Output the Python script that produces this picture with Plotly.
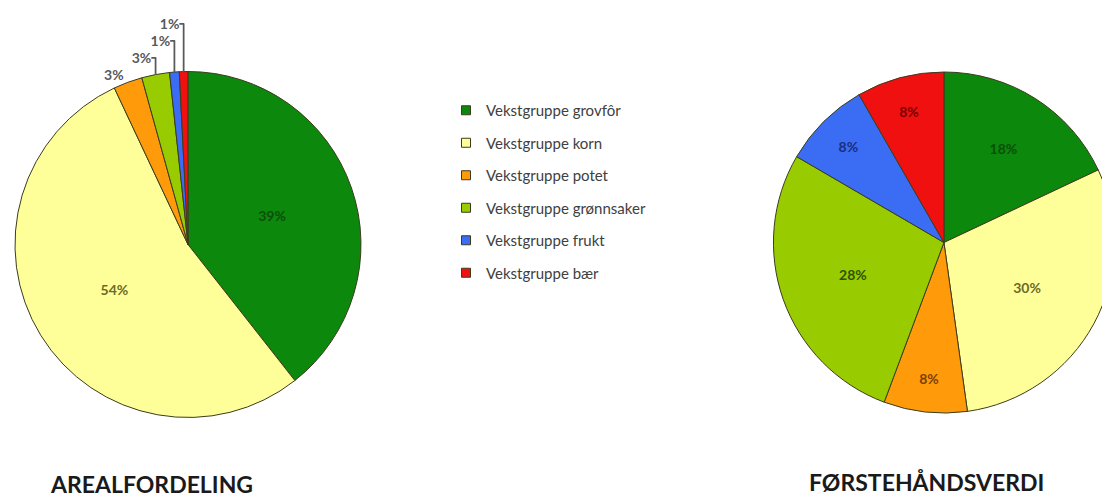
import plotly.graph_objects as go

categories = ["Vekstgruppe grovfôr", "Vekstgruppe korn", "Vekstgruppe potet",
              "Vekstgruppe grønnsaker", "Vekstgruppe frukt", "Vekstgruppe bær"]
areal = [39.4, 53.6, 2.7, 2.6, 0.9, 0.8]
verdi = [18.0, 29.8, 7.9, 27.7, 8.3, 8.3]
titles = ["AREALFORDELING", "FØRSTEHÅNDSVERDI"]

colors = ["#0C880C", "#FFFF99", "#FF9A0A", "#99CC00", "#3A6CF4", "#F01010"]
text_colors = ["#0B4F0B", "#6B6B2A", "#7A4000", "#2F5200", "#1A2F80", "#7A0000"]
font = "Lato, 'Open Sans', sans-serif"

fig = go.Figure()

fig.add_trace(go.Pie(
    labels=categories, values=areal, sort=False, direction="clockwise", rotation=0,
    domain=dict(x=[0.0063, 0.318], y=[0.1777, 0.8725]),
    marker=dict(colors=colors, line=dict(color="#3C3C1E", width=1)),
    texttemplate="%{percent:.0%}",
    textposition=["inside", "inside", "outside", "outside", "outside", "outside"],
    insidetextorientation="horizontal",
    insidetextfont=dict(family=font, size=14, color=text_colors, weight="bold"),
    outsidetextfont=dict(family=font, size=14, color="#595959", weight="bold"),
    showlegend=False, hoverinfo="label+percent",
))

fig.add_trace(go.Pie(
    labels=categories, values=verdi, sort=False, direction="clockwise", rotation=0,
    domain=dict(x=[0.6896, 0.9968], y=[0.1867, 0.8715]),
    marker=dict(colors=colors, line=dict(color="#3C3C1E", width=1)),
    texttemplate="%{percent:.0%}",
    textposition="inside",
    insidetextorientation="horizontal",
    insidetextfont=dict(family=font, size=14, color=text_colors, weight="bold"),
    showlegend=False, hoverinfo="label+percent",
))

# legend entries (one group per category so spacing can match)
for name, c in zip(categories, colors):
    fig.add_trace(go.Scatter(
        x=[None], y=[None], mode="markers", name=name, legendgroup=name,
        marker=dict(symbol="square", size=9, color=c, line=dict(color="#3C3C1E", width=1)),
        hoverinfo="skip",
    ))

fig.add_annotation(text="<b>" + titles[0] + "</b>", x=143 / 1110, y=1 - 476 / 498,
                   xref="paper", yref="paper", showarrow=False,
                   xanchor="center", yanchor="middle",
                   font=dict(family=font, size=23, color="#1a1a1a"))
fig.add_annotation(text="<b>" + titles[1] + "</b>", x=918.5 / 1110, y=1 - 474 / 498,
                   xref="paper", yref="paper", showarrow=False,
                   xanchor="center", yanchor="middle",
                   font=dict(family=font, size=23, color="#1a1a1a"))

fig.update_layout(
    width=1110, height=498,
    margin=dict(l=0, r=0, t=0, b=0),
    paper_bgcolor="white", plot_bgcolor="white",
    xaxis=dict(visible=False), yaxis=dict(visible=False),
    legend=dict(x=438 / 1110, y=1 - 86 / 498, xanchor="left", yanchor="top",
                tracegroupgap=10, font=dict(family=font, size=15, color="#404040"),
                bgcolor="rgba(0,0,0,0)"),
)

fig.write_html("out.html")
